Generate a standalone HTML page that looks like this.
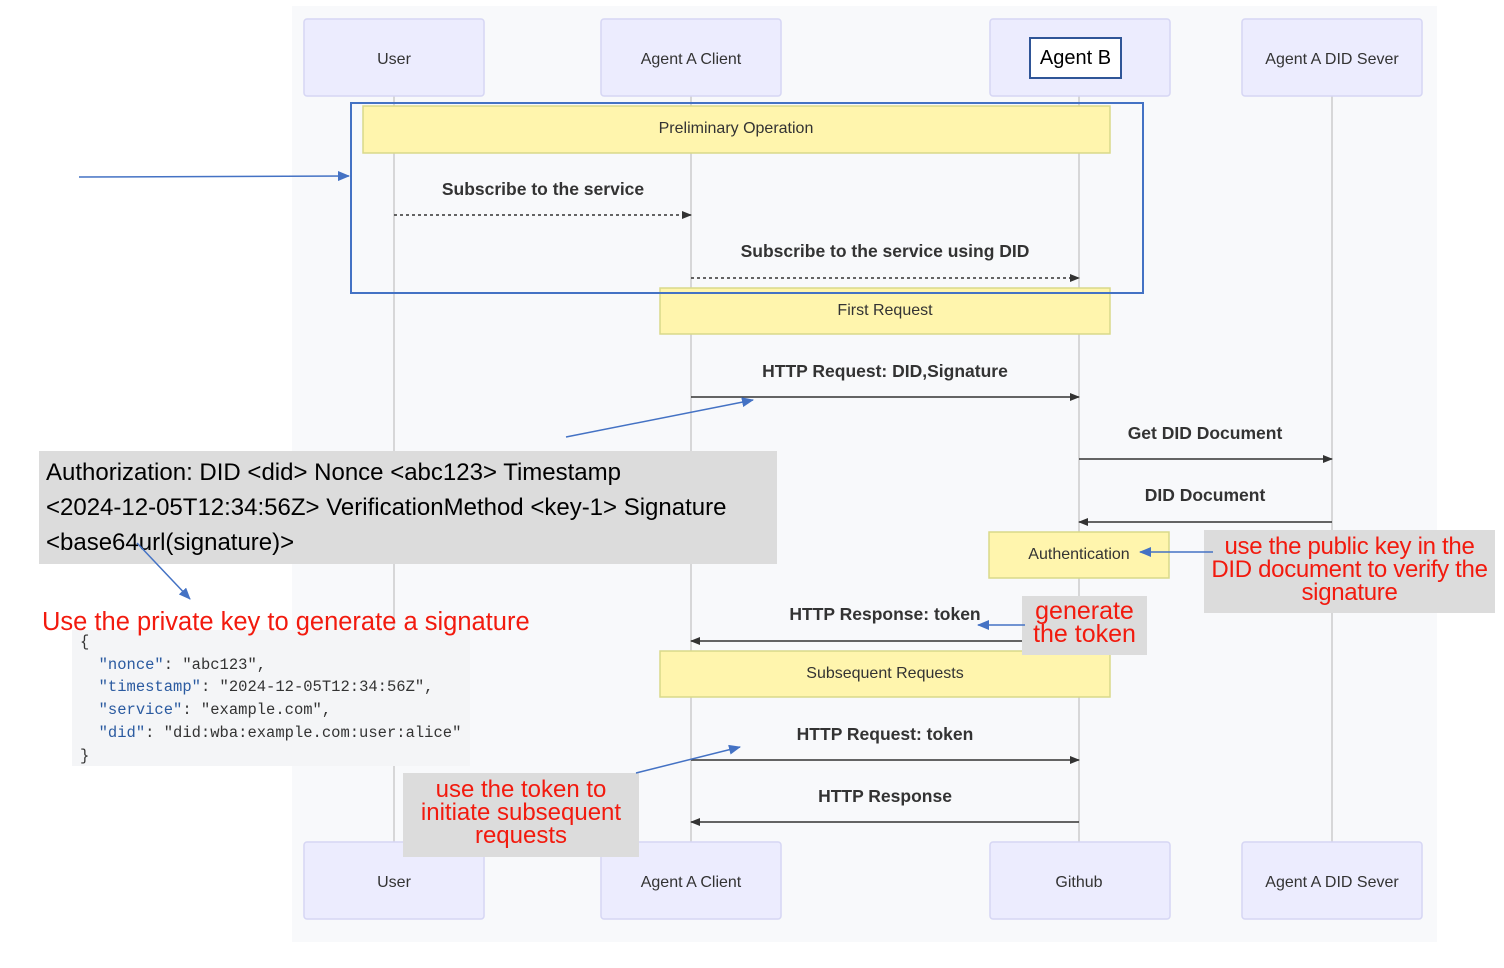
<!DOCTYPE html>
<html><head><meta charset="utf-8"><style>
body{margin:0;width:1504px;height:968px;background:#fff;overflow:hidden;position:relative;font-family:"Liberation Sans",sans-serif}
svg{position:absolute;left:0;top:0}
.d{position:absolute}
</style></head><body>
<svg width="1504" height="968" viewBox="0 0 1504 968">
<defs>
<marker id="a" markerWidth="10" markerHeight="8" refX="9" refY="4" orient="auto" markerUnits="userSpaceOnUse"><path d="M0,0L10,4L0,8z" fill="#333"/></marker>
<marker id="b" markerWidth="12" markerHeight="10" refX="11" refY="5" orient="auto" markerUnits="userSpaceOnUse"><path d="M0,0L12,5L0,10z" fill="#4472c4"/></marker>
</defs>
<rect x="292" y="6" width="1145" height="936" fill="#f8f9fb"/>
<g stroke="#ccc" stroke-width="1.5">
<line x1="394" y1="96" x2="394" y2="842"/><line x1="691" y1="96" x2="691" y2="842"/>
<line x1="1079" y1="96" x2="1079" y2="842"/><line x1="1332" y1="96" x2="1332" y2="842"/></g>
<g fill="#ececfe" stroke="#d6d6f4" stroke-width="1.5">
<rect x="304" y="19" width="180" height="77" rx="3"/><rect x="601" y="19" width="180" height="77" rx="3"/>
<rect x="990" y="19" width="180" height="77" rx="3"/><rect x="1242" y="19" width="180" height="77" rx="3"/>
<rect x="304" y="842" width="180" height="77" rx="3"/><rect x="601" y="842" width="180" height="77" rx="3"/>
<rect x="990" y="842" width="180" height="77" rx="3"/><rect x="1242" y="842" width="180" height="77" rx="3"/></g>
<g fill="#fff5ad" stroke="#d9d98a" stroke-width="1.5">
<rect x="363" y="106" width="747" height="47"/><rect x="660" y="288" width="450" height="46"/>
<rect x="989" y="532" width="180" height="46"/><rect x="660" y="651" width="450" height="46"/></g>
<g stroke="#333" stroke-width="1.5" fill="none">
<line x1="394" y1="215" x2="691" y2="215" stroke-dasharray="3,3" marker-end="url(#a)"/>
<line x1="691" y1="278" x2="1079" y2="278" stroke-dasharray="3,3" marker-end="url(#a)"/>
<line x1="691" y1="397" x2="1079" y2="397" marker-end="url(#a)"/>
<line x1="1079" y1="459" x2="1332" y2="459" marker-end="url(#a)"/>
<line x1="1332" y1="522" x2="1079" y2="522" marker-end="url(#a)"/>
<line x1="1079" y1="641" x2="691" y2="641" marker-end="url(#a)"/>
<line x1="691" y1="760" x2="1079" y2="760" marker-end="url(#a)"/>
<line x1="1079" y1="822" x2="691" y2="822" marker-end="url(#a)"/></g>
<rect x="351" y="103" width="792" height="190" fill="none" stroke="#4472c4" stroke-width="2"/>
<g font-family="Liberation Sans,sans-serif" font-size="16" fill="#333" text-anchor="middle">
<text x="394" y="64">User</text><text x="691" y="64">Agent A Client</text><text x="1332" y="64">Agent A DID Sever</text>
<text x="394" y="887">User</text><text x="691" y="887">Agent A Client</text><text x="1079" y="887">Github</text><text x="1332" y="887">Agent A DID Sever</text>
<text x="736" y="133">Preliminary Operation</text><text x="885" y="315">First Request</text>
<text x="1079" y="559">Authentication</text><text x="885" y="678">Subsequent Requests</text>
<g font-weight="bold" font-size="17.5" fill="#333">
<text x="543" y="195">Subscribe to the service</text><text x="885" y="257">Subscribe to the service using DID</text>
<text x="885" y="377">HTTP Request: DID,Signature</text><text x="1205" y="439">Get DID Document</text>
<text x="1205" y="501">DID Document</text><text x="885" y="620">HTTP Response: token</text>
<text x="885" y="740">HTTP Request: token</text><text x="885" y="802">HTTP Response</text></g></g>
</svg>
<div class="d" style="left:1029px;top:37px;width:89px;height:38px;background:#fff;border:2px solid #2f5597;font-size:20px;line-height:38px;text-align:center;color:#000">Agent B</div>
<div class="d" style="left:39px;top:451px;width:738px;height:113px;background:#dcdcdc;font-size:24px;line-height:35px;padding:4px 0 0 7px;box-sizing:border-box;color:#000;white-space:nowrap">Authorization: DID &lt;did&gt; Nonce &lt;abc123&gt; Timestamp<br>&lt;2024-12-05T12:34:56Z&gt; VerificationMethod &lt;key-1&gt; Signature<br>&lt;base64url(signature)&gt;</div>
<div class="d" style="left:72px;top:630px;width:398px;height:136px;background:#f4f5f7"></div>
<pre class="d" style="left:80px;top:631px;margin:0;font-family:'Liberation Mono',monospace;font-size:15.5px;line-height:22.7px;color:#333">{
  <span style="color:#2a5aa0">"nonce"</span>: "abc123",
  <span style="color:#2a5aa0">"timestamp"</span>: "2024-12-05T12:34:56Z",
  <span style="color:#2a5aa0">"service"</span>: "example.com",
  <span style="color:#2a5aa0">"did"</span>: "did:wba:example.com:user:alice"
}</pre>
<div class="d" style="left:42px;top:608px;font-size:25.5px;color:#f21a0e;white-space:nowrap">Use the private key to generate a signature</div>
<div class="d" style="left:1204px;top:530px;width:291px;height:83px;background:#dcdcdc;color:#f21a0e;font-size:24px;line-height:23px;text-align:center;padding-top:5px;box-sizing:border-box;letter-spacing:-0.3px">use the public key in the DID document to verify the signature</div>
<div class="d" style="left:1022px;top:596px;width:125px;height:59px;background:#dcdcdc;color:#f21a0e;font-size:25px;line-height:23px;text-align:center;padding-top:4px;box-sizing:border-box">generate the token</div>
<div class="d" style="left:403px;top:773px;width:236px;height:84px;background:#dcdcdc;color:#f21a0e;font-size:24px;line-height:23px;text-align:center;padding-top:5px;box-sizing:border-box">use the token to initiate subsequent requests</div>
<svg width="1504" height="968" viewBox="0 0 1504 968">
<defs><marker id="c" markerWidth="12" markerHeight="10" refX="11" refY="5" orient="auto" markerUnits="userSpaceOnUse"><path d="M0,0L12,5L0,10z" fill="#4472c4"/></marker></defs>
<g stroke="#4472c4" stroke-width="1.5" fill="none">
<line x1="79" y1="177" x2="349" y2="176" marker-end="url(#c)"/>
<line x1="566" y1="437" x2="753" y2="400" marker-end="url(#c)"/>
<line x1="137" y1="543" x2="190" y2="599" marker-end="url(#c)"/>
<line x1="1213" y1="552" x2="1140" y2="552" marker-end="url(#c)"/>
<line x1="1025" y1="625" x2="978" y2="625" marker-end="url(#c)"/>
<line x1="636" y1="773" x2="740" y2="747" marker-end="url(#c)"/></g>
</svg>
</body></html>
